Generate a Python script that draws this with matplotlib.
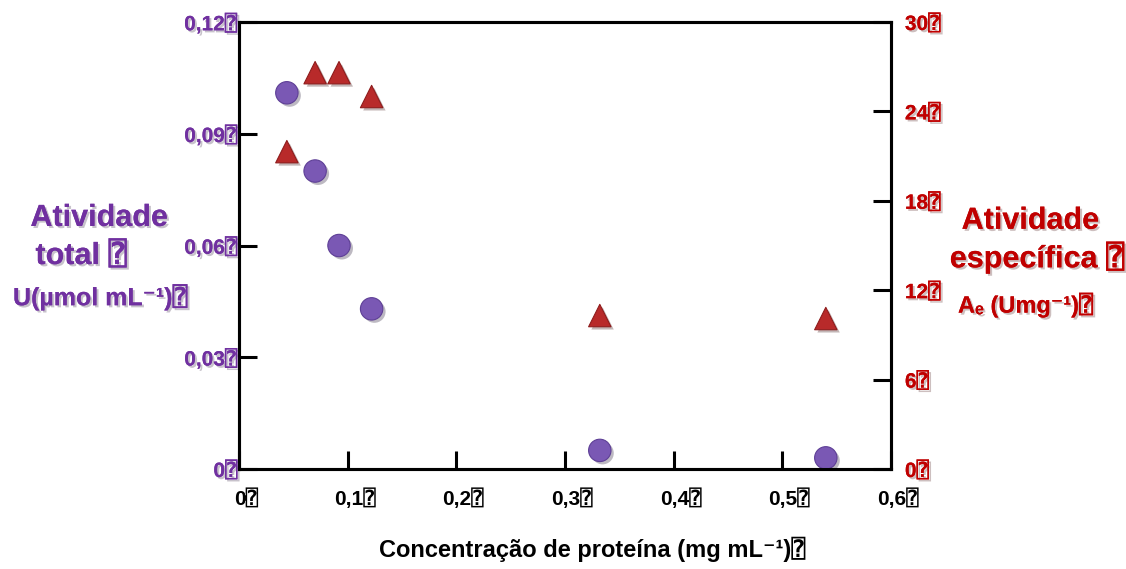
import matplotlib
matplotlib.use("Agg")
import matplotlib.pyplot as plt
import matplotlib.patheffects as pe
import matplotlib.transforms as mtransforms

# Concentration of protein (mg/mL) for each fraction
concentracao = [0.044, 0.070, 0.092, 0.122, 0.332, 0.540]
# Total activity U (umol/mL) - left axis, purple circles
atividade_total = [0.101, 0.080, 0.060, 0.043, 0.005, 0.003]
# Specific activity Ae (U/mg) - right axis, red triangles
atividade_especifica = [21.3, 26.6, 26.6, 25.0, 10.3, 10.1]

x_ticks = [0, 0.1, 0.2, 0.3, 0.4, 0.5, 0.6]
x_labels = ["0", "0,1", "0,2", "0,3", "0,4", "0,5", "0,6"]
left_ticks = [0, 0.03, 0.06, 0.09, 0.12]
left_labels = ["0", "0,03", "0,06", "0,09", "0,12"]
right_ticks = [0, 6, 12, 18, 24, 30]
right_labels = ["0", "6", "12", "18", "24", "30"]

BOX = "\u2370"
PURPLE = "#7030A0"
RED = "#C00000"
FONT = ["Liberation Sans", "DejaVu Sans", "DejaVu Sans Mono"]

shadow = [pe.withSimplePatchShadow(offset=(1.5, -1.5), alpha=0.25), pe.Normal()]

fig = plt.figure(figsize=(11.26, 5.69), dpi=100)
ax = fig.add_axes([0.2123, 0.1757, 0.579, 0.7856])
ax2 = ax.twinx()

ax.scatter(concentracao, atividade_total, s=260, color="#7A58B4",
           edgecolor="#5E3F96", linewidth=0.8, zorder=3,
           path_effects=[pe.SimplePatchShadow(offset=(2, -2), alpha=0.3), pe.Normal()])
ax2.scatter(concentracao, atividade_especifica, marker="^", s=260, color="#B82A2A",
            edgecolor="#8E1C1C", linewidth=0.8, zorder=3,
            path_effects=[pe.SimplePatchShadow(offset=(2, -2), alpha=0.3), pe.Normal()])

ax.set_xlim(0, 0.6)
ax.set_ylim(0, 0.12)
ax2.set_ylim(0, 30)

for a in (ax, ax2):
    for sp in a.spines.values():
        sp.set_linewidth(2.2)

ax.set_xticks(x_ticks)
ax.set_xticklabels([t + BOX for t in x_labels], family=FONT, fontsize=15,
                   fontweight="bold", color="black")
ax.set_yticks(left_ticks)
ax.set_yticklabels([t + BOX for t in left_labels], family=FONT, fontsize=15,
                   fontweight="bold", color=PURPLE)
ax2.set_yticks(right_ticks)
ax2.set_yticklabels([t + BOX for t in right_labels], family=FONT, fontsize=15,
                    fontweight="bold", color=RED)

ax.tick_params(axis="x", direction="in", length=13, width=2.2, pad=14)
ax.tick_params(axis="y", direction="in", length=13, width=2.2, pad=1)
ax2.tick_params(axis="y", direction="in", length=13, width=2.2, pad=10)

# x labels sit a little to the right of their ticks
shift = mtransforms.ScaledTranslation(0.07, 0, fig.dpi_scale_trans)
for lab in ax.get_xticklabels():
    lab.set_transform(lab.get_transform() + shift)

for lab in ax.get_yticklabels() + ax2.get_yticklabels():
    lab.set_path_effects(shadow)

# axis titles
fig.text(0.526, 0.012, "Concentração de proteína (mg mL⁻¹)" + BOX, family=FONT,
         fontsize=17, fontweight="bold", ha="center", va="bottom")

fig.text(0.088, 0.617, "Atividade", family=FONT, fontsize=22, fontweight="bold",
         color=PURPLE, ha="center", va="center", path_effects=shadow)
fig.text(0.072, 0.550, "total " + BOX, family=FONT, fontsize=22, fontweight="bold",
         color=PURPLE, ha="center", va="center", path_effects=shadow)
fig.text(0.089, 0.478, "U(µmol mL⁻¹)" + BOX, family=FONT, fontsize=18,
         fontweight="bold", color=PURPLE, ha="center", va="center", path_effects=shadow)

fig.text(0.915, 0.612, "Atividade", family=FONT, fontsize=22, fontweight="bold",
         color=RED, ha="center", va="center", path_effects=shadow)
fig.text(0.921, 0.547, "específica " + BOX, family=FONT, fontsize=22, fontweight="bold",
         color=RED, ha="center", va="center", path_effects=shadow)
fig.text(0.911, 0.464, "Aₑ (Umg⁻¹)" + BOX, family=FONT, fontsize=17,
         fontweight="bold", color=RED, ha="center", va="center", path_effects=shadow)

fig.savefig("out.png", dpi=100)
